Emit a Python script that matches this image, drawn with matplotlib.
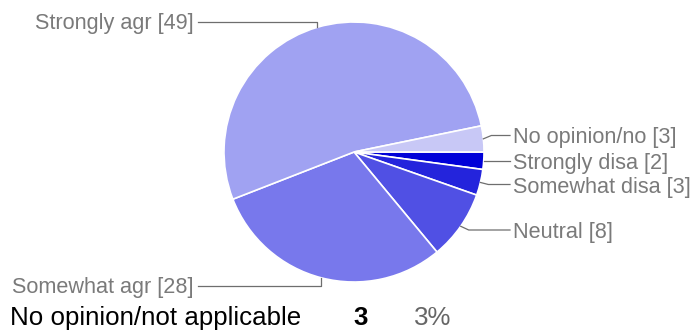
import numpy as np
import matplotlib
matplotlib.use("Agg")
import matplotlib.pyplot as plt

plt.rcParams["font.family"] = ["Liberation Sans", "DejaVu Sans"]

# ── data ──────────────────────────────────────────────────────────────────────
categories = ["Strongly disa", "Somewhat disa", "Neutral",
              "Somewhat agr", "Strongly agr", "No opinion/no"]
counts = [2, 3, 8, 28, 49, 3]
colours = ["#0000d8", "#2424dc", "#5050e4", "#7878ec", "#a0a2f2", "#c8c8f6"]

footer_label = "No opinion/not applicable"
footer_idx = 5

# ── layout (pixel coordinates, y down) ────────────────────────────────────────
W, H = 699, 334
CX, CY, R = 354, 152, 130
TEXT_GREY = "#7a7a7a"
LINE_GREY = "#6e6e6e"
LABEL_FS = 15.6
FOOT_FS = 18.6

fig = plt.figure(figsize=(W / 100, H / 100), dpi=100)
ax = fig.add_axes([0, 0, 1, 1])

wedges, _ = ax.pie(counts, colors=colours, startangle=0, counterclock=True,
                   center=(CX, CY), radius=R,
                   wedgeprops=dict(edgecolor="white", linewidth=1.2))
ax.set_xlim(0, W)
ax.set_ylim(H, 0)
ax.axis("off")


def anchor(w):
    mid = np.deg2rad((w.theta1 + w.theta2) / 2)
    return CX + R * np.cos(mid), CY + R * np.sin(mid)


# right-hand labels: anchor -> small elbow -> horizontal run to the text
right_y = {0: 160.5, 1: 184.5, 2: 230, 5: 135.5}
for i, ly in right_y.items():
    ax_, ay_ = anchor(wedges[i])
    ex = ax_ + 8 if abs(ay_ - ly) > 1.5 else ax_
    ax.plot([ax_, ex, 510], [ay_, ly, ly], color=LINE_GREY, lw=0.9,
            solid_joinstyle="round")
    ax.text(513, ly, f"{categories[i]} [{counts[i]}]", fontsize=LABEL_FS,
            color=TEXT_GREY, ha="left", va="center_baseline")

# left-hand labels: short vertical tick from the pie, then horizontal run
left_y = {4: 21.5, 3: 285.5}
for i, ly in left_y.items():
    ax_, ay_ = anchor(wedges[i])
    ax.plot([ax_, ax_, 198], [ay_, ly, ly], color=LINE_GREY, lw=0.9,
            solid_joinstyle="round")
    ax.text(194, ly, f"{categories[i]} [{counts[i]}]", fontsize=LABEL_FS,
            color=TEXT_GREY, ha="right", va="center_baseline")

# summary row for the highlighted answer
pct = 100 * counts[footer_idx] / sum(counts)
ax.text(10, 325, footer_label, fontsize=FOOT_FS, color="black",
        ha="left", va="baseline")
ax.text(361, 325, f"{counts[footer_idx]}", fontsize=FOOT_FS, color="black",
        fontweight="bold", ha="center", va="baseline")
ax.text(414, 325, f"{pct:.0f}%", fontsize=FOOT_FS, color="#666666",
        ha="left", va="baseline")

fig.savefig("out.png", dpi=100)
